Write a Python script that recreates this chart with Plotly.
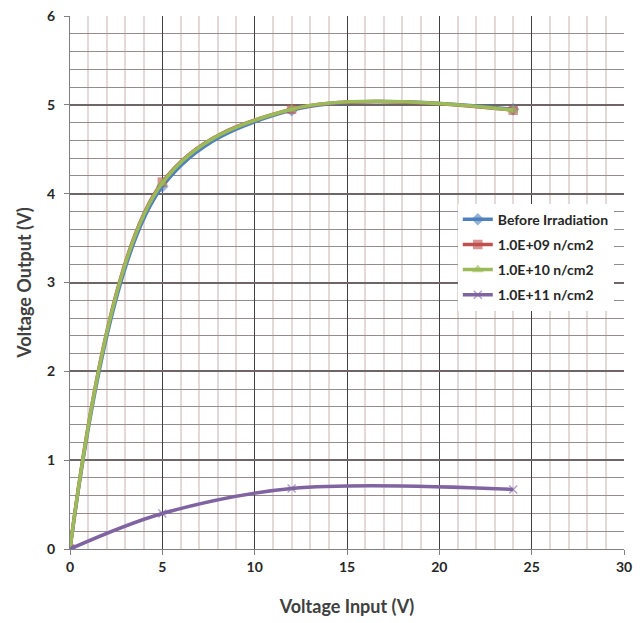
import plotly.graph_objects as go

x_vals = [0, 5, 12, 24]
before = [0, 4.08, 4.94, 4.95]
e09 = [0, 4.13, 4.95, 4.94]
e10 = [0, 4.12, 4.95, 4.94]
e11 = [0, 0.40, 0.68, 0.67]

names = ["Before Irradiation", "1.0E+09 n/cm2", "1.0E+10 n/cm2", "1.0E+11 n/cm2"]
series = [before, e09, e10, e11]
colors = ["#4F81BD", "#C0504D", "#9BBB59", "#8064A2"]
symbols = ["diamond", "square", "triangle-up", "x-thin"]

fig = go.Figure()
for i, (name, ys, c, s) in enumerate(zip(names, series, colors, symbols)):
    fig.add_trace(go.Scatter(
        x=x_vals, y=ys, name=name, mode="lines+markers", legendgroup=f"g{i}",
        line=dict(color=c, width=3.5, shape="spline", smoothing=1.0),
        marker=dict(symbol=s, size=8, color=c, opacity=0.6,
                    line=dict(color=c, width=1.5)),
    ))

font_family = "Lato, 'Open Sans', sans-serif"
fig.update_layout(
    width=636, height=615,
    margin=dict(l=62, r=20, t=8, b=74, autoexpand=False),
    paper_bgcolor="white", plot_bgcolor="white",
    font=dict(family=font_family, color="#404040"),
    showlegend=True,
    legend=dict(x=0.70, y=0.648, xanchor="left", yanchor="top",
                bgcolor="white", borderwidth=0,
                font=dict(size=14, family=font_family, color="#262626", weight="bold"),
                tracegroupgap=4, itemwidth=30),
    xaxis=dict(
        range=[0, 30], dtick=5, tick0=0, automargin=False, ticklabeloverflow="allow",
        showgrid=True, gridcolor="#404040", gridwidth=1,
        showline=True, linecolor="#808080", linewidth=1,
        ticks="outside", ticklen=5, tickcolor="#808080",
        tickfont=dict(size=14, family=font_family, color="#262626", weight="bold"),
        title=dict(text="<b>Voltage Input (V)</b>", font=dict(size=18, color="#404040"), standoff=26),
        zeroline=False,
        minor=dict(dtick=1, showgrid=True, gridcolor="#E3D9D9", gridwidth=1.5),
    ),
    yaxis=dict(
        range=[0, 6], dtick=1, tick0=0, automargin=False, ticklabeloverflow="allow",
        showgrid=True, gridcolor="#6E6666", gridwidth=1.5,
        showline=True, linecolor="#808080", linewidth=1,
        ticks="outside", ticklen=5, tickcolor="#808080", ticklabelstandoff=6,
        tickfont=dict(size=14, family=font_family, color="#262626", weight="bold"),
        title=dict(text="<b>Voltage Output (V)</b>", font=dict(size=18, color="#404040"), standoff=10),
        zeroline=False,
        minor=dict(dtick=0.2, showgrid=True, gridcolor="#978C8C", gridwidth=1.2),
    ),
)

fig.write_html("out.html")
